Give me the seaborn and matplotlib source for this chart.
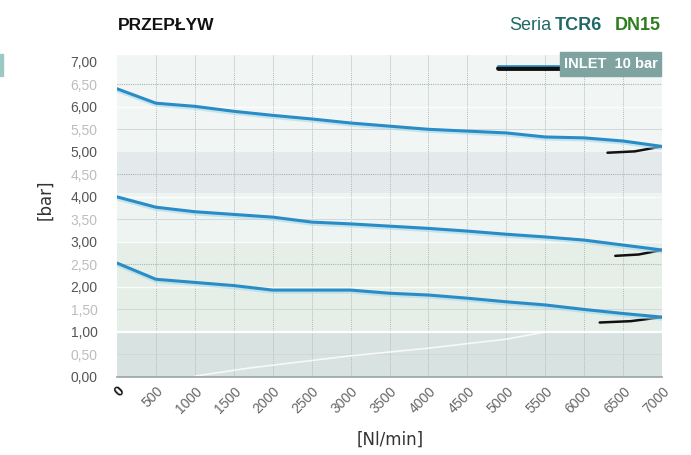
import pandas as pd
import matplotlib
matplotlib.use("Agg")
import matplotlib.pyplot as plt
import matplotlib.patheffects as pe
from matplotlib.patches import Rectangle
from matplotlib.lines import Line2D
import seaborn as sns

# --- DATA ---
flow = [0, 500, 1000, 1500, 2000, 2500, 3000, 3500, 4000, 4500, 5000, 5500, 6000, 6500, 7000]
p_high = [6.40, 6.08, 6.01, 5.90, 5.81, 5.73, 5.64, 5.57, 5.50, 5.46, 5.42, 5.33, 5.31, 5.24, 5.12]
p_mid = [4.00, 3.77, 3.67, 3.61, 3.55, 3.44, 3.40, 3.35, 3.30, 3.24, 3.17, 3.11, 3.04, 2.93, 2.82]
p_low = [2.53, 2.17, 2.10, 2.03, 1.93, 1.93, 1.93, 1.86, 1.82, 1.75, 1.67, 1.60, 1.50, 1.41, 1.33]

# black return segments near full flow
ret_flow_high = [6300, 6650, 7000]
ret_high = [4.98, 5.01, 5.12]
ret_flow_mid = [6400, 6700, 7000]
ret_mid = [2.69, 2.72, 2.82]
ret_flow_low = [6200, 6600, 7000]
ret_low = [1.21, 1.24, 1.33]

# faint white trace in the lower band
faint_flow = [1000, 1700, 3000, 4000, 5000, 5500]
faint_p = [0.02, 0.20, 0.47, 0.64, 0.84, 1.00]

x_ticks = flow
y_ticks = [0.0, 0.5, 1.0, 1.5, 2.0, 2.5, 3.0, 3.5, 4.0, 4.5, 5.0, 5.5, 6.0, 6.5, 7.0]

LINE_BLUE = '#2a8cc6'
FONT = ['Liberation Sans', 'DejaVu Sans']

sns.set_style("white")
plt.rcParams['font.family'] = FONT

fig = plt.figure(figsize=(6.91, 4.55), dpi=100)
ax = fig.add_axes([117 / 691, 78 / 455, 545 / 691, 322 / 455])
ax.set_xlim(0, 7000)
ax.set_ylim(0, 7.15)

# background bands
bands = [(5.0, 7.15, '#f1f6f5'), (4.08, 5.0, '#e4eaeb'), (3.0, 4.08, '#edf4f2'),
         (1.0, 3.0, '#e5efe7'), (0.0, 1.0, '#d7e2e1')]
for lo, hi, c in bands:
    ax.axhspan(lo, hi, color=c, zorder=0, lw=0)

# grid
for xv in x_ticks[1:]:
    ax.axvline(xv, color='#b5bcbc', lw=0.7, ls=(0, (1, 1)), zorder=1)
for yv in [6.5, 4.5, 2.5]:
    ax.axhline(yv, color='#aab3b3', lw=0.8, ls=(0, (1, 1)), zorder=1)
for yv in [5.5, 3.5, 1.5, 0.5]:
    ax.axhline(yv, color='#d0d8d8', lw=0.7, zorder=1)
for yv in [2.0, 3.0, 4.0, 6.0]:
    ax.axhline(yv, color='white', lw=1.0, alpha=0.8, zorder=1)
ax.axhline(1.0, color='white', lw=1.6, zorder=1)

ax.plot(faint_flow, faint_p, color='white', lw=1.2, alpha=0.8, zorder=2)

# curves
df = pd.DataFrame({
    'flow': flow * 3,
    'pressure': p_high + p_mid + p_low,
    'setting': ['high'] * len(flow) + ['mid'] * len(flow) + ['low'] * len(flow),
})
shadow = [pe.SimpleLineShadow(offset=(0, -1.5), shadow_color='#a6d9e8', alpha=0.6, rho=1), pe.Normal()]
sns.lineplot(data=df, x='flow', y='pressure', hue='setting',
             palette=[LINE_BLUE] * 3, legend=False, lw=2.2, ax=ax, zorder=4)
for ln in ax.lines[-3:]:
    ln.set_path_effects(shadow)
    ln.set_solid_capstyle('round')

for fx, py in [(ret_flow_high, ret_high), (ret_flow_mid, ret_mid), (ret_flow_low, ret_low)]:
    ax.plot(fx, py, color='#111111', lw=1.8, zorder=3)

# axes cosmetics
sns.despine(ax=ax, left=True, top=True, right=True)
ax.spines['bottom'].set_color('#9aa3a3')
ax.spines['bottom'].set_linewidth(1.2)

ax.set_yticks(y_ticks)
ax.set_yticklabels([f"{v:.2f}".replace('.', ',') for v in y_ticks], fontsize=10)
for lab, v in zip(ax.get_yticklabels(), y_ticks):
    lab.set_color('#555555' if v == int(v) else '#bdbdbd')
ax.tick_params(axis='y', length=0, pad=14)

ax.set_xticks(x_ticks)
ax.set_xticklabels([str(v) for v in x_ticks], rotation=45, ha='right',
                   rotation_mode='anchor', fontsize=10, color='#666666')
ax.get_xticklabels()[0].set_fontweight('bold')
ax.get_xticklabels()[0].set_color('#111111')
ax.tick_params(axis='x', length=0, pad=5)
ax.set_xlabel('')
ax.set_ylabel('')

fig.text(390 / 691, 1 - 440 / 455, '[Nl/min]', ha='center', va='center',
         fontsize=12, color='#333333', family='DejaVu Sans')
fig.text(45 / 691, 1 - 200 / 455, '[bar]', ha='center', va='center', rotation=90,
         fontsize=12, color='#333333', family='DejaVu Sans')

# titles
fig.text(118 / 691, 1 - 25 / 455, 'PRZEPŁYW', ha='left', va='center',
         fontsize=12.5, fontweight='bold', color='#111111')
fig.text(551 / 691, 1 - 26 / 455, 'Seria', ha='right', va='center',
         fontsize=13, color='#1f6a64')
fig.text(555 / 691, 1 - 26 / 455, 'TCR6', ha='left', va='center',
         fontsize=13, fontweight='bold', color='#1f6a64')
fig.text(661 / 691, 1 - 26 / 455, 'DN15', ha='right', va='center',
         fontsize=13, fontweight='bold', color='#2e7d1e')

# legend box
fig.patches.append(Rectangle((560 / 691, 1 - 76 / 455), 101 / 691, 24 / 455,
                             transform=fig.transFigure, color='#7ea3a1', zorder=5))
fig.text(611 / 691, 1 - 64 / 455, 'INLET  10 bar', ha='center', va='center',
         fontsize=10.5, fontweight='bold', color='white', zorder=6)
fig.lines.append(Line2D([498 / 691, 561 / 691], [1 - 68 / 455, 1 - 68 / 455],
                        transform=fig.transFigure, color='#111111', lw=3.5))
fig.lines.append(Line2D([498 / 691, 561 / 691], [1 - 66 / 455, 1 - 66 / 455],
                        transform=fig.transFigure, color=LINE_BLUE, lw=1.2))

# small accent at left edge
fig.patches.append(Rectangle((0, 1 - 76 / 455), 3 / 691, 22 / 455,
                             transform=fig.transFigure, color='#9cc9c4'))

fig.savefig('out.png', dpi=100)
